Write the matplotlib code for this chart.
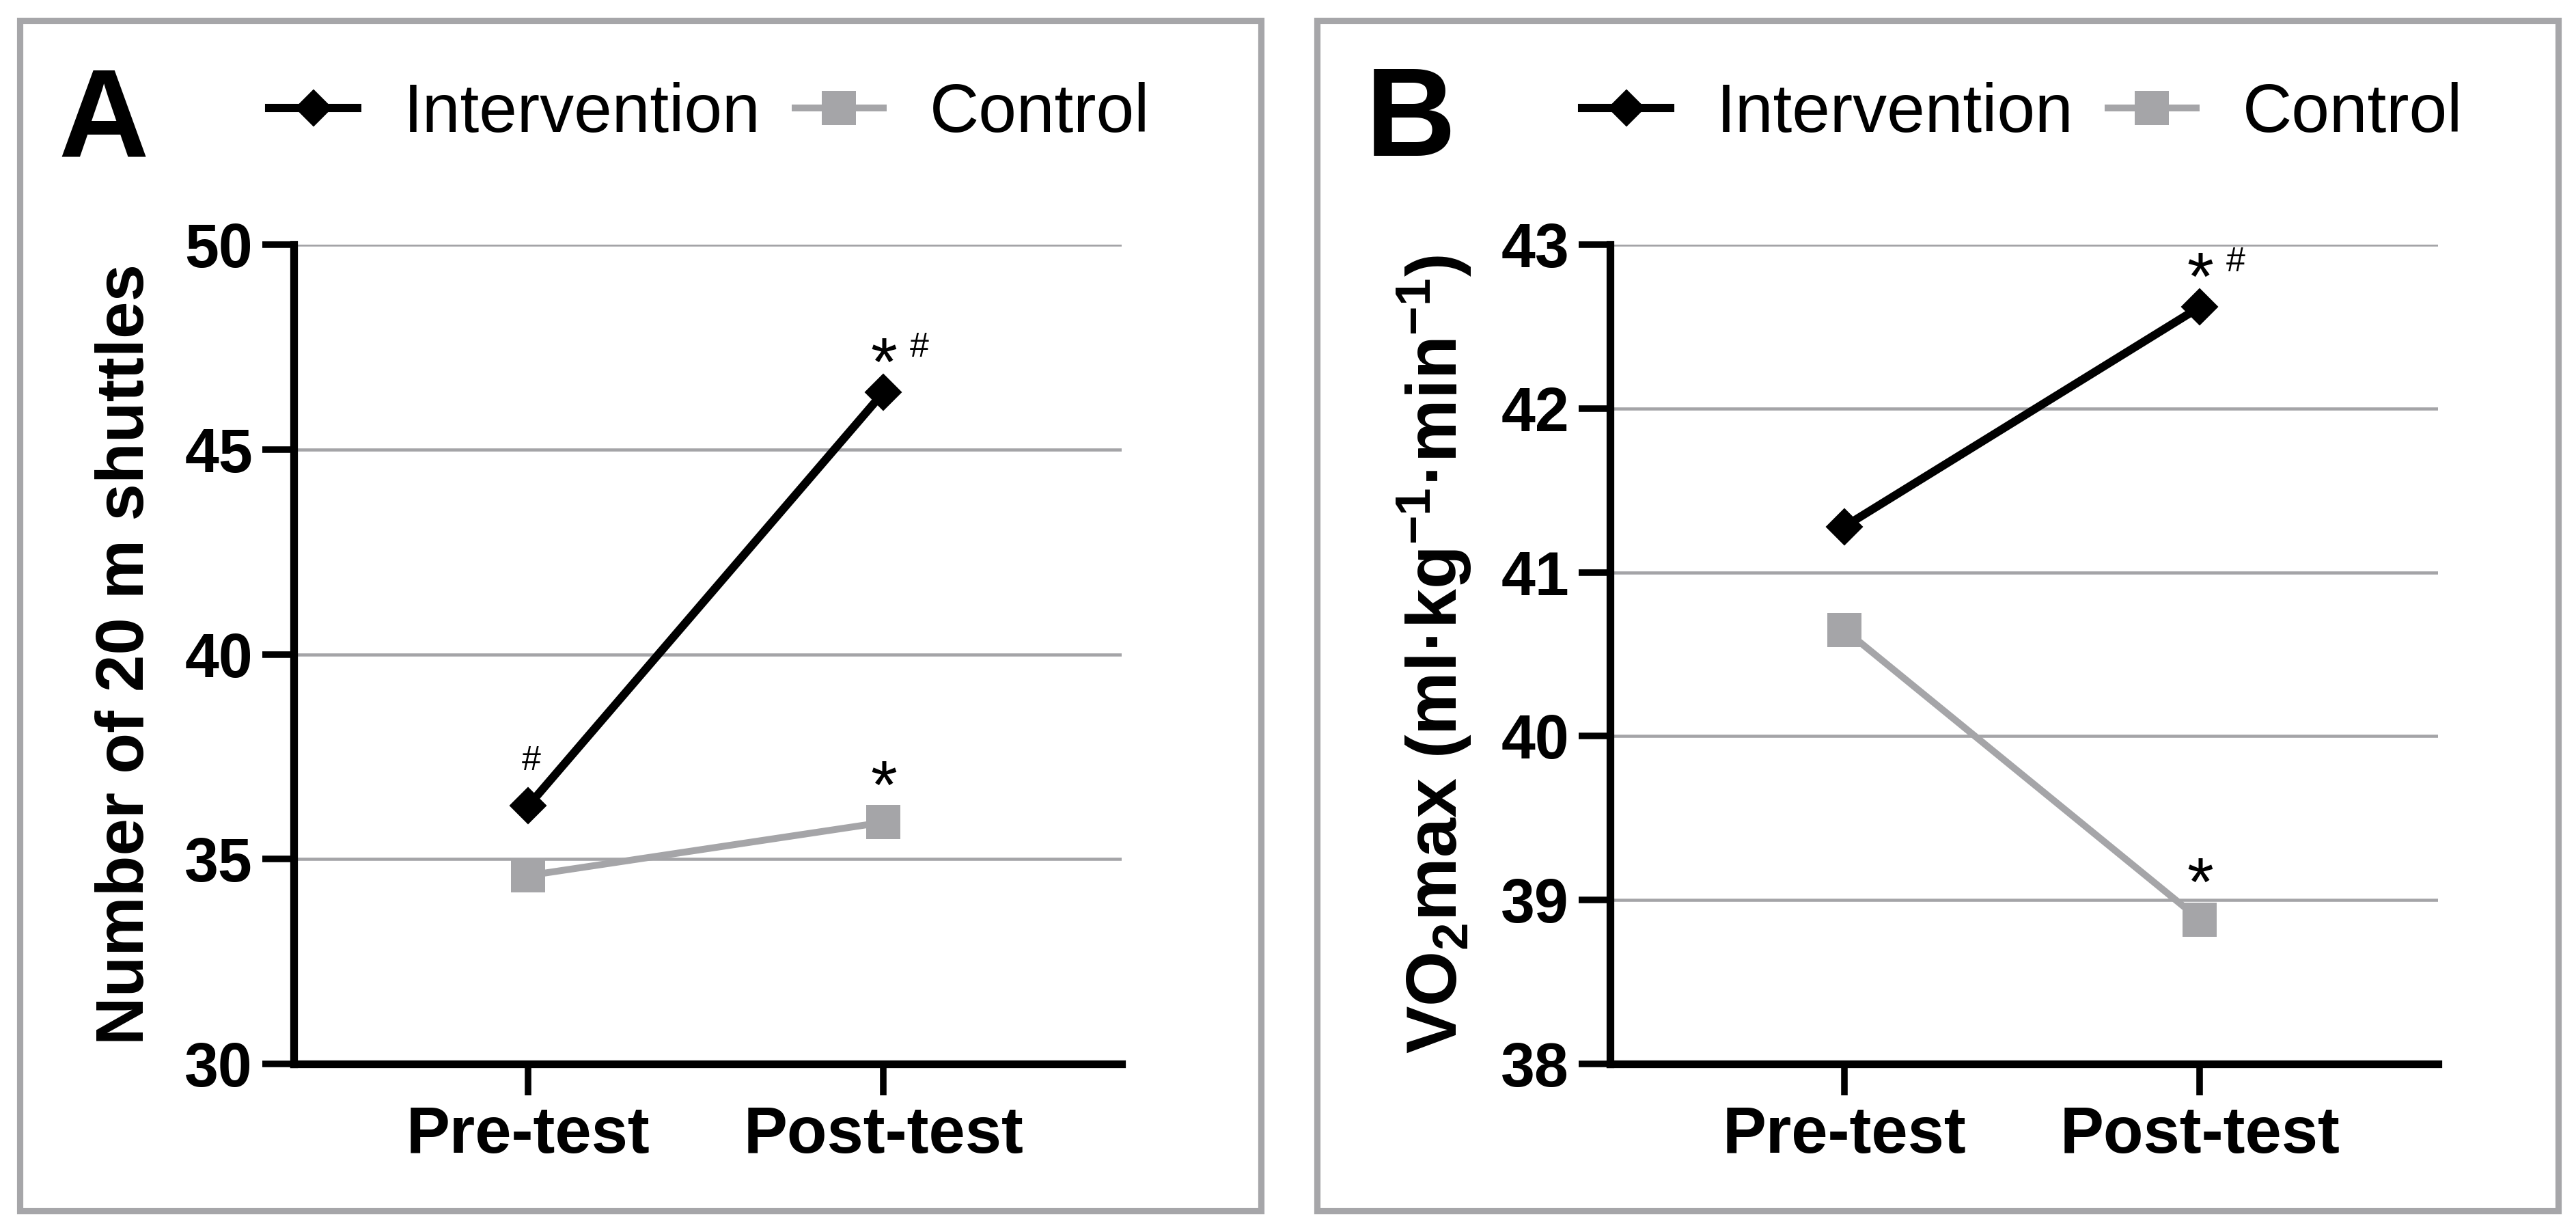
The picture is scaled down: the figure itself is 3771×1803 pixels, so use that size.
import numpy as np
import matplotlib.pyplot as plt
from matplotlib.patches import Rectangle
from matplotlib import font_manager

# Données
times = ['Pre-test', 'Post-test']
groups = ['Intervention', 'Control']

shuttles_intervention = [36.3, 46.4]
shuttles_control = [34.6, 35.9]
shuttles_ticks = [30, 35, 40, 45, 50]

vo2_intervention = [41.28, 42.62]
vo2_control = [40.65, 38.88]
vo2_ticks = [38, 39, 40, 41, 42, 43]

# (groupe, indice du temps, symboles)
shuttles_marks = [('Intervention', 0, '#'), ('Intervention', 1, '*#'), ('Control', 1, '*')]
vo2_marks = [('Intervention', 1, '*#'), ('Control', 1, '*')]

plt.rcParams['font.family'] = ['Liberation Sans', 'DejaVu Sans']
plt.rcParams['mathtext.fontset'] = 'custom'
plt.rcParams['mathtext.rm'] = 'Liberation Sans:bold'
plt.rcParams['mathtext.it'] = 'Liberation Sans:bold'
plt.rcParams['mathtext.bf'] = 'Liberation Sans:bold'

names = {f.name for f in font_manager.fontManager.ttflist}
letter_font = 'Liberation Sans Narrow' if 'Liberation Sans Narrow' in names else 'Liberation Sans'

gray = '#a5a5a8'
styles = {
    'Intervention': dict(color='black', marker='D', ms=8.8, lw=2.9, mew=0.5),
    'Control': dict(color=gray, marker='s', ms=12, lw=2.4, mew=0),
}
star_dy = {'Intervention': 2.4, 'Control': 5.0}

W, H = 3771, 1803
fig = plt.figure(figsize=(W / 300, H / 300), dpi=300)


def panel(left, letter, letter_x, legend_x, frame_x0, frame_x1,
          values, ticks, ylabel, ylabel_size, marks):
    ax = fig.add_axes([left, 0.1364, 0.3214, 0.6650])
    lines = []
    for g in groups:
        ln, = ax.plot([0, 1], values[g], label=g, zorder=3, clip_on=False, **styles[g])
        lines.append(ln)

    for g, i, mark in marks:
        y = values[g][i]
        if '*' in mark:
            ax.annotate('*', (i, y), xytext=(0, star_dy[g]), textcoords='offset points',
                        ha='center', va='baseline', fontsize=24)
        if '#' in mark:
            dx = 12.5 if '*' in mark else 1
            ax.annotate('#', (i, y), xytext=(dx, 12.5), textcoords='offset points',
                        ha='center', va='baseline', fontsize=12)

    ax.set_xlim(-0.66, 1.67)
    ax.set_ylim(ticks[0], ticks[-1])
    ax.set_yticks(ticks)
    ax.set_xticks([0, 1], times)
    ax.tick_params(axis='both', length=11, width=2.3, pad=3.4, color='black')
    ax.tick_params(axis='y', labelsize=21.5)
    ax.tick_params(axis='x', labelsize=23)
    for lab in ax.get_xticklabels() + ax.get_yticklabels():
        lab.set_fontweight('bold')

    for s in ['top', 'right']:
        ax.spines[s].set_visible(False)
    for s in ['left', 'bottom']:
        ax.spines[s].set_linewidth(2.7)

    ax.yaxis.grid(True, color='#a4a4a7', lw=1.1)
    ax.set_axisbelow(True)

    ax.set_ylabel(ylabel, fontsize=ylabel_size, fontweight='bold')
    ax.yaxis.set_label_coords(-0.165, 0.5)

    ax.legend(handles=lines, loc='center left', bbox_to_anchor=(legend_x, 0.9074),
              bbox_transform=fig.transFigure, ncol=2, frameon=False, fontsize=24,
              handlelength=1.29, handletextpad=0.68, columnspacing=0.5,
              borderpad=0, borderaxespad=0)

    fig.text(letter_x, 0.8735, letter, fontsize=44, fontweight='bold',
             family=letter_font, ha='left', va='baseline')

    fig.add_artist(Rectangle((frame_x0, 0.0172), frame_x1 - frame_x0, 0.9662,
                             transform=fig.transFigure, fill=False,
                             ec='#a6a6a9', lw=2.2))
    return ax


panel(430 / W, 'A', 85 / W, 394 / W, 29 / W, 1846 / W,
      {'Intervention': shuttles_intervention, 'Control': shuttles_control},
      shuttles_ticks, 'Number of 20 m shuttles', 23.5, shuttles_marks)

panel(2357 / W, 'B', 1999 / W, 2316 / W, 1928 / W, 3745 / W,
      {'Intervention': vo2_intervention, 'Control': vo2_control},
      vo2_ticks, r'VO$_2$max (ml·kg$^{-1}$·min$^{-1}$)', 25, vo2_marks)

fig.savefig('out.png', dpi=300)
